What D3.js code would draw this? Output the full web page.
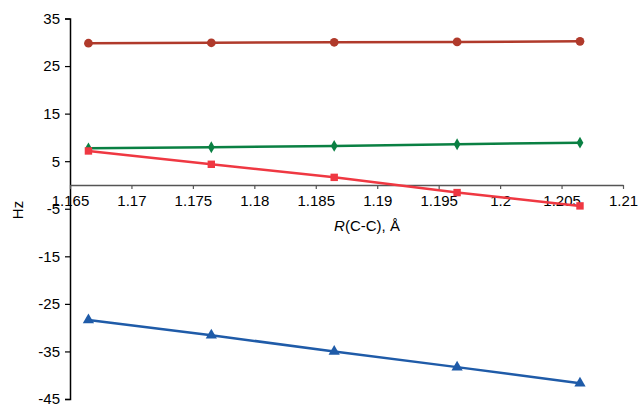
<!DOCTYPE html>
<html><head><meta charset="utf-8">
<script src="https://cdn.jsdelivr.net/npm/d3@7"></script>
<style>body{margin:0;background:#fff}svg{display:block}text{font-family:"Liberation Sans",Arial,sans-serif}</style>
</head><body><svg id="c" width="639" height="406"></svg>
<script>
const xValues = [1.1665, 1.1765, 1.1865, 1.1965, 1.2065];
const brownSeries = [29.8, 29.9, 30.0, 30.07, 30.2];
const greenSeries = [7.7, 7.93, 8.2, 8.56, 8.9];
const redSeries = [7.15, 4.35, 1.6, -1.6, -4.4];
const blueSeries = [-28.4, -31.6, -35.0, -38.3, -41.7];
const xTicks = [1.165, 1.17, 1.175, 1.18, 1.185, 1.19, 1.195, 1.2, 1.205, 1.21];
const yTicks = [35, 25, 15, 5, -5, -15, -25, -35, -45];

const svg = d3.select("#c");
const x = d3.scaleLinear().domain([1.165, 1.21]).range([70, 623]);
const y = d3.scaleLinear().domain([-45, 35]).range([399, 18.5]);

// y axis
const ya = svg.append("g").attr("transform","translate(70,0)")
  .call(d3.axisLeft(y).tickValues(yTicks).tickSize(5).tickFormat(d=>String(d)));
ya.select(".domain").attr("stroke","#000").attr("stroke-width",1.5);
ya.selectAll(".tick line").attr("stroke","#000").attr("stroke-width",1.2);
ya.selectAll(".tick text").attr("font-size",15).attr("fill","#000").attr("x",-10)
  .attr("font-family","Liberation Sans, Arial, sans-serif");

// x axis at y=0
const xa = svg.append("g").attr("transform",`translate(0,${y(0)})`)
  .call(d3.axisBottom(x).tickValues(xTicks).tickSize(4).tickSizeOuter(0)
    .tickFormat(d=>d3.format("")(+d.toFixed(3))));
xa.select(".domain").attr("stroke","#555").attr("stroke-width",1.5);
xa.selectAll(".tick line").attr("stroke","#555").attr("stroke-width",1.2);
xa.selectAll(".tick text").attr("font-size",15).attr("fill","#000").attr("dy","0.95em")
  .attr("font-family","Liberation Sans, Arial, sans-serif");

// axis titles
const xt = svg.append("text").attr("x",367).attr("y",231).attr("text-anchor","middle")
  .attr("font-size",15).attr("fill","#000");
xt.append("tspan").attr("font-style","italic").text("R");
xt.append("tspan").text("(C-C), Å");
svg.append("text").attr("transform","translate(23,210) rotate(-90)").attr("text-anchor","middle")
  .attr("font-size",15).attr("fill","#000").text("Hz");

const series = [
  {vals: brownSeries, color:"#b03a2b", sym:d3.symbolCircle, size:60},
  {vals: greenSeries, color:"#0a8043", sym:d3.symbolDiamond, size:40},
  {vals: redSeries, color:"#ef3842", sym:d3.symbolSquare, size:55},
  {vals: blueSeries, color:"#1f5ba8", sym:d3.symbolTriangle, size:55}
];
const line = d3.line().x((d,i)=>x(xValues[i])).y(d=>y(d));
series.forEach(s=>{
  svg.append("path").datum(s.vals).attr("d",line).attr("fill","none")
    .attr("stroke",s.color).attr("stroke-width",2.5);
  svg.selectAll(null).data(s.vals).enter().append("path")
    .attr("d",d3.symbol().type(s.sym).size(s.size))
    .attr("transform",(d,i)=>`translate(${x(xValues[i])},${y(d)})`)
    .attr("fill",s.color);
});
</script></body></html>
